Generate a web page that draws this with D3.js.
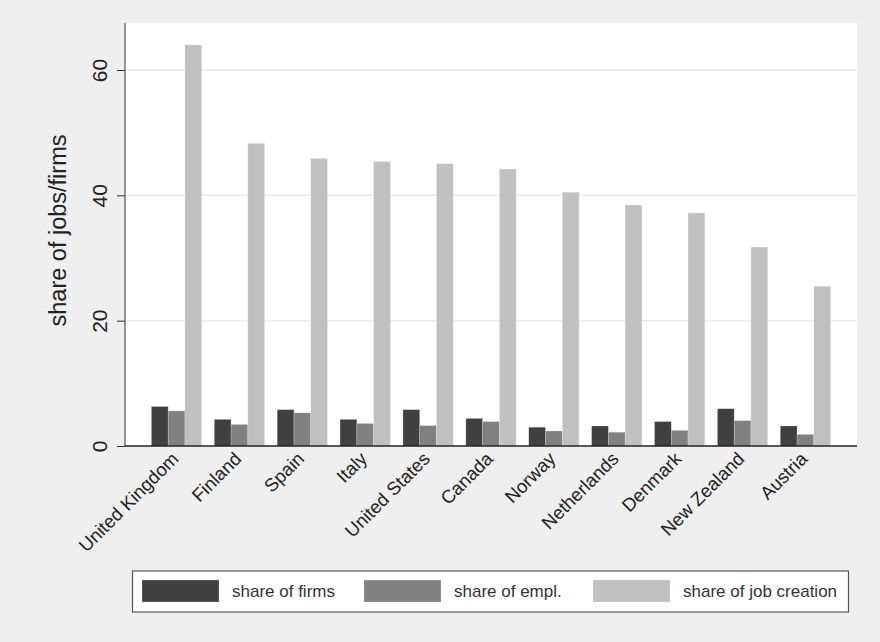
<!DOCTYPE html>
<html>
<head>
<meta charset="utf-8">
<script src="https://cdn.jsdelivr.net/npm/d3@7"></script>
<style>
  body { margin: 0; background: #efefef; }
  svg { display: block; font-family: "Liberation Sans", Arial, sans-serif; }
</style>
</head>
<body>
<div id="container"></div>
<script>
/* CONSTANTS AND GLOBALS */
const width = 880,
  height = 642,
  margin = { top: 23, bottom: 196, left: 125, right: 23 };

/* DATA */
const countries = ["United Kingdom", "Finland", "Spain", "Italy", "United States", "Canada",
  "Norway", "Netherlands", "Denmark", "New Zealand", "Austria"];
const seriesNames = ["share of firms", "share of empl.", "share of job creation"];
const shareFirms = [6.3, 4.25, 5.8, 4.25, 5.8, 4.4, 3.0, 3.2, 3.9, 5.95, 3.2];
const shareEmpl = [5.6, 3.45, 5.3, 3.6, 3.25, 3.9, 2.4, 2.2, 2.5, 4.05, 1.85];
const shareJobCreation = [64.0, 48.3, 45.9, 45.4, 45.05, 44.2, 40.5, 38.45, 37.2, 31.75, 25.5];
const yTicks = [0, 20, 40, 60];
const colors = ["#404040", "#808080", "#c0c0c0"];

// rows for the grouped bars
const rows = countries.map((c, i) => ({
  country: c,
  values: [shareFirms[i], shareEmpl[i], shareJobCreation[i]]
}));

/* SCALES */
const x0 = d3.scaleBand()
  .domain(countries)
  .range([margin.left, width - margin.right])
  .paddingInner(0.2)
  .paddingOuter(0.42);

const x1 = d3.scaleBand()
  .domain(d3.range(seriesNames.length))
  .range([0, x0.bandwidth()]);

const yScale = d3.scaleLinear()
  .domain([0, 67.5])
  .range([height - margin.bottom, margin.top]);

const color = d3.scaleOrdinal().domain(d3.range(3)).range(colors);

/* DRAW */
const svg = d3.select("#container")
  .append("svg")
  .attr("width", width)
  .attr("height", height);

svg.append("rect")
  .attr("width", width).attr("height", height)
  .attr("fill", "#efefef");

// plot region
svg.append("rect")
  .attr("x", margin.left)
  .attr("y", margin.top)
  .attr("width", width - margin.left - margin.right)
  .attr("height", height - margin.top - margin.bottom)
  .attr("fill", "#fff");

// gridlines
svg.append("g")
  .selectAll("line")
  .data(yTicks.filter(d => d > 0))
  .join("line")
  .attr("x1", margin.left)
  .attr("x2", width - margin.right)
  .attr("y1", d => yScale(d))
  .attr("y2", d => yScale(d))
  .attr("stroke", "#eaeaea")
  .attr("stroke-width", 1.5);

// bars
svg.append("g")
  .selectAll("g")
  .data(rows)
  .join("g")
  .attr("transform", d => `translate(${x0(d.country)},0)`)
  .selectAll("rect")
  .data(d => d.values.map((v, k) => ({ k, v })))
  .join("rect")
  .attr("x", d => x1(d.k))
  .attr("width", x1.bandwidth())
  .attr("y", d => yScale(d.v))
  .attr("height", d => yScale(0) - yScale(d.v))
  .attr("fill", d => color(d.k))
  .attr("stroke", "#fff")
  .attr("stroke-opacity", 0.35)
  .attr("stroke-width", 0.6);

// y axis
const yAxis = svg.append("g")
  .attr("transform", `translate(${margin.left},0)`)
  .call(d3.axisLeft(yScale).tickValues(yTicks).tickSize(8).tickFormat(d3.format("d")));
yAxis.select(".domain").attr("stroke", "#333").attr("d", `M0,${yScale(0)}V${margin.top}`);
yAxis.selectAll(".tick line").attr("stroke", "#333");
yAxis.selectAll(".tick text")
  .attr("x", null).attr("dy", null)
  .attr("transform", "translate(-18,0) rotate(-90)")
  .attr("text-anchor", "middle")
  .attr("font-size", 21)
  .attr("fill", "#222");

// x axis
const xAxis = svg.append("g")
  .attr("transform", `translate(0,${yScale(0)})`)
  .call(d3.axisBottom(x0).tickSize(0));
xAxis.select(".domain").attr("stroke", "#222").attr("stroke-width", 1.3)
  .attr("d", `M${margin.left},0H${width - margin.right}`);
xAxis.selectAll(".tick text")
  .attr("y", null).attr("dy", null)
  .attr("transform", "translate(3,14) rotate(-45)")
  .attr("text-anchor", "end")
  .attr("font-size", 18.5)
  .attr("fill", "#222");

// y axis title
svg.append("text")
  .attr("transform", `translate(66,${(margin.top + yScale(0)) / 2-4}) rotate(-90)`)
  .attr("text-anchor", "middle")
  .attr("font-size", 23.5)
  .attr("fill", "#222")
  .text("share of jobs/firms");

// legend
const legend = svg.append("g");
legend.append("rect")
  .attr("x", 132.5).attr("y", 571)
  .attr("width", 716).attr("height", 41)
  .attr("fill", "#fff")
  .attr("stroke", "#555")
  .attr("stroke-width", 1.2);

const legendX = [142, 364, 593];
const item = legend.selectAll("g.item")
  .data(seriesNames)
  .join("g")
  .attr("class", "item")
  .attr("transform", (d, i) => `translate(${legendX[i]},580)`);
item.append("rect")
  .attr("width", 77).attr("height", 22)
  .attr("fill", (d, i) => color(i))
  .attr("stroke", "#fff").attr("stroke-opacity", 0.35).attr("stroke-width", 0.6);
item.append("text")
  .attr("x", 90).attr("y", 17)
  .attr("font-size", 17)
  .attr("fill", "#333")
  .text(d => d);
</script>
</body>
</html>
